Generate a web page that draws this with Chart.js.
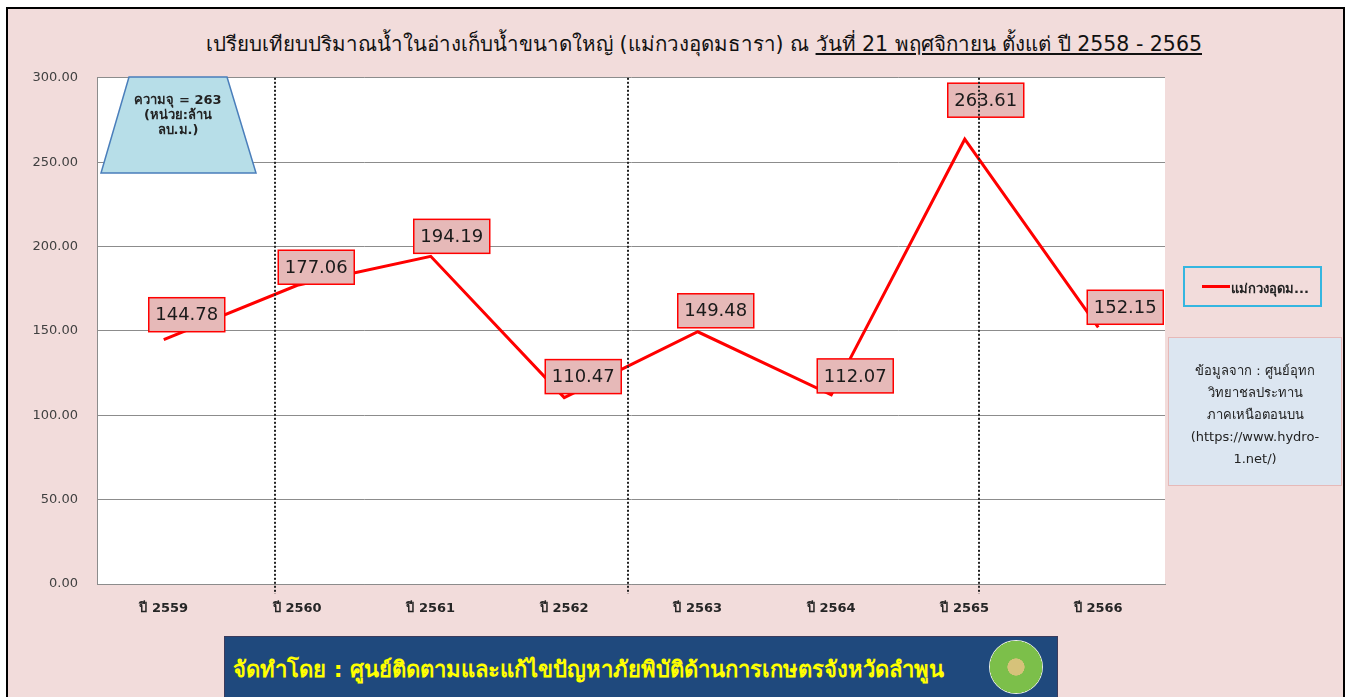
<!DOCTYPE html>
<html>
<head>
<meta charset="utf-8">
<script src="https://cdn.jsdelivr.net/npm/chart.js@4.4.1/dist/chart.umd.min.js"></script>
<style>
    body { margin: 0; background: #fff; width: 1351px; height: 697px; overflow: hidden; position: relative; font-family: "DejaVu Sans", "Noto Sans", sans-serif; }
    .frame { position: absolute; left: 6px; top: 7px; width: 1335px; height: 700px; border: 2px solid #000; background: #f2dcdb; }
    .title { position: absolute; left: 0; top: 27px; width: 1408px; text-align: center; font-size: 20.5px; color: #111; }
    .wrap { position: absolute; left: 0; top: 51px; width: 1170px; height: 579px; }
    .legend { position: absolute; left: 1183px; top: 266px; width: 135px; height: 37px; border: 2px solid #35b6e0; }
    .legend .swatch { position: absolute; left: 17px; top: 17px; width: 28px; height: 3px; background: #ff0000; }
    .legend .txt { position: absolute; left: 46px; top: 10px; font-size: 13px; font-weight: bold; color: #222; }
    .info { position: absolute; left: 1168px; top: 337px; width: 174px; height: 149px; background: #dce6f1; border: 1px solid #e6b9b8; text-align: center; font-size: 13px; line-height: 22px; color: #222; padding-top: 22px; box-sizing: border-box; }
    .banner { position: absolute; left: 224px; top: 636px; width: 832px; height: 60px; background: #1f497d; border: 1px solid #3b3b5c; }
    .banner .txt { position: absolute; left: 8px; top: 15px; font-size: 22px; font-weight: bold; color: #ffff00; }
    .logo { position: absolute; left: 764px; top: 3px; width: 54px; height: 54px; border-radius: 50%; background: radial-gradient(circle, #d6c27a 0 22%, #7cbf4a 23% 68%, #e9efe2 69% 84%, #9bb58a 85% 100%); }
    .trap { position: absolute; left: 100px; top: 76px; }
</style>
</head>
<body>
<div class="frame"></div>
<div class="title">เปรียบเทียบปริมาณน้ำในอ่างเก็บน้ำขนาดใหญ่ (แม่กวงอุดมธารา) ณ <u>วันที่ 21 พฤศจิกายน ตั้งแต่ ปี 2558 - 2565</u></div>
<div class="wrap"><canvas id="waterChart"></canvas></div>
<svg class="trap" width="160" height="100">
    <polygon points="29,1 127,1 156,97 1,97" fill="#b7dee8" stroke="#4a7ebb" stroke-width="1.5"/>
    <text x="78" y="28" text-anchor="middle" font-size="13" font-weight="bold" fill="#222">ความจุ = 263</text>
    <text x="78" y="43" text-anchor="middle" font-size="13" font-weight="bold" fill="#222">(หน่วย:ล้าน</text>
    <text x="78" y="58" text-anchor="middle" font-size="13" font-weight="bold" fill="#222">ลบ.ม.)</text>
</svg>
<div class="legend"><div class="swatch"></div><div class="txt">แม่กวงอุดม...</div></div>
<div class="info">ข้อมูลจาก : ศูนย์อุทก<br>วิทยาชลประทาน<br>ภาคเหนือตอนบน<br>(https://www.hydro-<br>1.net/)</div>
<div class="banner">
    <div class="txt">จัดทำโดย : ศูนย์ติดตามและแก้ไขปัญหาภัยพิบัติด้านการเกษตรจังหวัดลำพูน</div>
    <div class="logo"></div>
</div>

<script>
// values
const years = ["ปี 2559", "ปี 2560", "ปี 2561", "ปี 2562", "ปี 2563", "ปี 2564", "ปี 2565", "ปี 2566"];
const volume = [144.78, 177.06, 194.19, 110.47, 149.48, 112.07, 263.61, 152.15];
const yTicks = [0, 50, 100, 150, 200, 250, 300];

// where the dotted dividers sit, in category units
const dividerAt = [0.83, 3.48, 6.11];
// label box nudges (px) so they sit like the original
const labelDx = [23, 19, 21, 19, 18, 24, 21, 27];
const labelDy = [-25, -18, -20, -21, -21, -19, -39, -20];

const plotBg = {
    id: 'plotBg',
    beforeDraw(chart) {
        const a = chart.chartArea;
        const ctx = chart.ctx;
        ctx.save();
        ctx.fillStyle = '#ffffff';
        ctx.fillRect(a.left, a.top, a.right - a.left, a.bottom - a.top);
        ctx.restore();
    }
};

const valueBoxes = {
    id: 'valueBoxes',
    afterDatasetsDraw(chart) {
        const ctx = chart.ctx;
        const meta = chart.getDatasetMeta(0);
        ctx.save();
        ctx.font = '18px "DejaVu Sans"';
        ctx.textAlign = 'center';
        ctx.textBaseline = 'middle';
        meta.data.forEach((pt, i) => {
            const cx = pt.x + labelDx[i];
            const cy = pt.y + labelDy[i];
            const w = 76, h = 34;
            ctx.fillStyle = '#e6b9b8';
            ctx.fillRect(cx - w / 2, cy - h / 2, w, h);
            ctx.strokeStyle = '#ff0000';
            ctx.lineWidth = 1.5;
            ctx.strokeRect(cx - w / 2, cy - h / 2, w, h);
            ctx.fillStyle = '#1a1a1a';
            ctx.fillText(volume[i].toFixed(2), cx, cy + 1);
        });
        ctx.restore();
    }
};

const dividers = {
    id: 'dividers',
    afterDraw(chart) {
        const ctx = chart.ctx;
        const x = chart.scales.x;
        const a = chart.chartArea;
        ctx.save();
        ctx.strokeStyle = '#222';
        ctx.lineWidth = 2;
        ctx.setLineDash([2, 2]);
        dividerAt.forEach(v => {
            const px = Math.round(x.getPixelForValue(v));
            ctx.beginPath();
            ctx.moveTo(px, a.top);
            ctx.lineTo(px, a.bottom + 10);
            ctx.stroke();
        });
        ctx.restore();
    }
};

new Chart(document.getElementById('waterChart'), {
    type: 'line',
    data: {
        labels: years,
        datasets: [{
            label: 'แม่กวงอุดมธารา',
            data: volume,
            borderColor: '#ff0000',
            borderWidth: 3,
            pointRadius: 0,
            tension: 0,
            fill: false
        }]
    },
    options: {
        responsive: true,
        maintainAspectRatio: false,
        animation: false,
        layout: { padding: { left: 0, top: 8, right: 5, bottom: 0 } },
        plugins: {
            legend: { display: false },
            tooltip: { enabled: false }
        },
        scales: {
            x: {
                offset: true,
                grid: { display: false, drawTicks: false },
                border: { color: '#8c8c8c', width: 1 },
                ticks: {
                    padding: 17,
                    color: '#262626',
                    font: { family: '"DejaVu Sans"', size: 13, weight: 'bold' }
                },
                afterFit(scale) { scale.height = 46; }
            },
            y: {
                min: 0,
                max: 300,
                afterBuildTicks(scale) { scale.ticks = yTicks.map(v => ({ value: v })); },
                grid: { color: '#8c8c8c', lineWidth: 1, drawTicks: false },
                border: { color: '#8c8c8c', width: 1 },
                ticks: {
                    padding: 19,
                    color: '#404040',
                    font: { family: '"DejaVu Sans"', size: 13 },
                    callback: v => Number(v).toFixed(2)
                },
                afterFit(scale) { scale.width = 97; }
            }
        }
    },
    plugins: [plotBg, valueBoxes, dividers]
});
</script>
</body>
</html>
